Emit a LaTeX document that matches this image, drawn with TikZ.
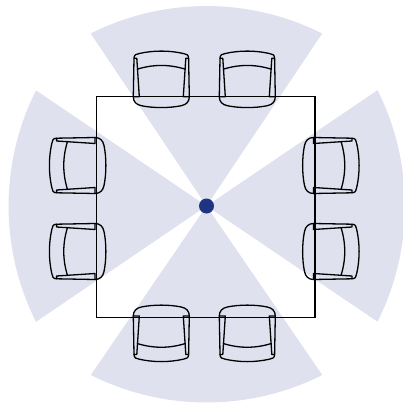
\documentclass[tikz,border=0pt]{standalone}
\definecolor{wedgecolor}{HTML}{E0E1EF}
\definecolor{dotcolor}{HTML}{1F3583}
\tikzset{
	wedge/.style={fill=wedgecolor, draw=none},
	chairline/.style={line width=1.3pt, line cap=round, line join=round},
	tableline/.style={line width=1.2pt, line join=miter},
	centerdot/.style={circle, fill=dotcolor, inner sep=0pt, minimum size=15pt},
	chair/.pic={
		\draw [chairline] (-27.3,38.4) .. controls (-27.3,42) and (-25,42.8) .. (-22,43.2) .. controls (-8,46.4) and (8,46.4) .. (22,43.2) .. controls (25,42.8) and (27.3,42) .. (27.3,38.4);
		\draw [chairline] (-27.3,38.4)-- (-24.5,38.4)-- (-22,0)-- (-28,0)-- cycle;
		\draw [chairline] (27.3,38.4)-- (24.5,38.4)-- (22,0)-- (28,0)-- cycle;
		\draw [chairline] (-24,27.5) .. controls (-8,32.5) and (8,32.5) .. (24,27.5);
		\draw [chairline] (-28,0) .. controls (-28,-5) and (-25,-8) .. (-20,-9) .. controls (-8,-11.5) and (8,-11.5) .. (20,-9) .. controls (25,-8) and (28,-5) .. (28,0);
	}
}
\begin{document}
\begin{tikzpicture}[x=1pt,y=1pt]
	\useasboundingbox (0,0) rectangle (403,402);
	% viewing wedges
	\foreach \r/\d in {0/172.5, 90/170.5, 180/169, 270/171} {
		\begin{scope}[shift={(206.5,196)},rotate=\r]
			\fill [wedge] (0,0)-- (-115.8,\d) arc[start angle=116.7, end angle=63.3, radius=257.6]-- cycle;
		\end{scope}
	}
	% table
	\draw [tableline] (96.5,84.3) rectangle (315,305.3);
	% chairs
	\foreach \px/\py/\r in {161.3/305.3/0, 247.3/305.3/0, 161.3/86/180, 247.3/86/180, 95/236.5/90, 95/150.5/90, 313.5/236.5/-90, 313.5/150.5/-90} {
		\pic [rotate=\r] at (\px,\py) {chair};
	}
	\node [centerdot] (center) at (206.5,196) {};
\end{tikzpicture}
\end{document}
